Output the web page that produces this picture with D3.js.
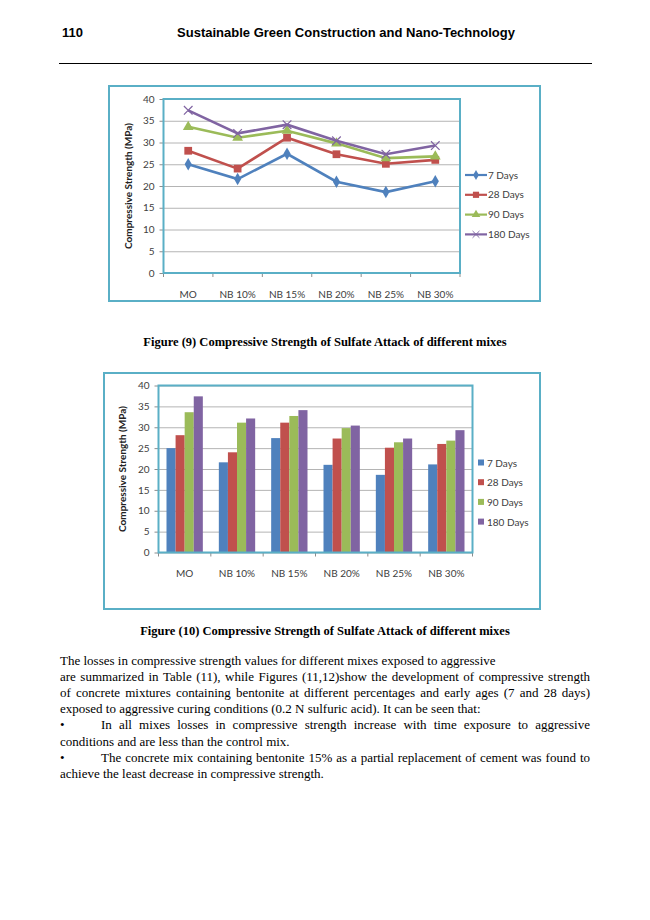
<!DOCTYPE html>
<html>
<head>
<meta charset="utf-8">
<script src="https://cdn.jsdelivr.net/npm/d3@7"></script>
<style>
  body { margin: 0; background: #fff; }
  svg { display: block; }
</style>
</head>
<body>
<div id="page"></div>
<script>
// chart data
var categories = ["MO", "NB 10%", "NB 15%", "NB 20%", "NB 25%", "NB 30%"];
var seriesNames = ["7 Days", "28 Days", "90 Days", "180 Days"];
var days7   = [25.0, 21.6, 27.4, 21.0, 18.6, 21.1];
var days28  = [28.1, 24.0, 31.1, 27.3, 25.1, 26.0];
var days90  = [33.6, 31.1, 32.7, 29.8, 26.4, 26.8];
var days180 = [37.4, 32.1, 34.1, 30.4, 27.3, 29.3];
var yTicks  = [0, 5, 10, 15, 20, 25, 30, 35, 40];

var colors = ["#4F81BD", "#C0504D", "#9BBB59", "#8064A2"];
var allSeries = [days7, days28, days90, days180];
var series = seriesNames.map(function(n, i) {
    return { name: n, color: colors[i], values: allSeries[i] };
});

var teal = "#5AAFC6";
var font = "Lato, 'Open Sans', sans-serif";

var svg = d3.select("#page").append("svg")
    .attr("width", 650)
    .attr("height", 920);

svg.append("rect").attr("width", 650).attr("height", 920).attr("fill", "#fff");

// page header
svg.append("text")
    .attr("x", 62).attr("y", 37)
    .style("font", "bold 13px 'Liberation Sans', Arial, sans-serif")
    .text("110");
svg.append("text")
    .attr("x", 346).attr("y", 37)
    .attr("text-anchor", "middle")
    .style("font", "bold 13px 'Liberation Sans', Arial, sans-serif")
    .text("Sustainable Green Construction and Nano-Technology");
svg.append("line")
    .attr("x1", 59).attr("x2", 592)
    .attr("y1", 63.5).attr("y2", 63.5)
    .attr("stroke", "#000").attr("stroke-width", 1);

function drawChart(opt) {
    var g = svg.append("g");

    g.append("rect")
        .attr("x", opt.box[0]).attr("y", opt.box[1])
        .attr("width", opt.box[2] - opt.box[0])
        .attr("height", opt.box[3] - opt.box[1])
        .attr("fill", "#fff")
        .attr("stroke", teal).attr("stroke-width", 2);

    var x = d3.scaleBand()
        .domain(categories)
        .range([opt.plot[0], opt.plot[2]]);
    var y = d3.scaleLinear()
        .domain([0, 40])
        .range([opt.plot[3], opt.plot[1]]);
    var bw = x.bandwidth();

    // gridlines + y ticks
    g.append("g")
        .attr("transform", "translate(" + opt.plot[0] + ",0)")
        .call(d3.axisLeft(y).tickValues(yTicks)
            .tickSize(-(opt.plot[2] - opt.plot[0]))
            .tickFormat(""))
        .call(function(s) {
            s.select(".domain").remove();
            s.selectAll("line").attr("stroke", "#b4b4b4").attr("stroke-width", 1);
        });
    g.append("g")
        .attr("transform", "translate(" + opt.plot[0] + ",0)")
        .call(d3.axisLeft(y).tickValues(yTicks).tickSize(4).tickPadding(5))
        .call(function(s) {
            s.select(".domain").remove();
            s.selectAll("line").attr("stroke", "#8c8c8c");
            s.selectAll("text")
                .style("font", "10px " + font)
                .attr("fill", "#404040");
        });

    // x ticks at category boundaries
    var bounds = categories.map(function(c) { return x(c); }).concat([opt.plot[2]]);
    g.selectAll(".xtick")
        .data(bounds)
        .enter().append("line")
        .attr("x1", function(d) { return d; })
        .attr("x2", function(d) { return d; })
        .attr("y1", opt.plot[3])
        .attr("y2", opt.plot[3] + 4)
        .attr("stroke", "#8c8c8c");

    g.append("g")
        .attr("transform", "translate(0," + opt.plot[3] + ")")
        .call(d3.axisBottom(x).tickSize(0).tickPadding(opt.xPad))
        .call(function(s) {
            s.select(".domain").remove();
            s.selectAll("text")
                .style("font", "10px " + font)
                .attr("fill", "#404040");
        });

    if (opt.type == "bar") {
        var x1 = d3.scaleBand()
            .domain(seriesNames)
            .range([8, bw - 8]);
        categories.forEach(function(c, ci) {
            g.selectAll(".bar" + ci)
                .data(series)
                .enter().append("rect")
                .attr("x", function(d) { return x(c) + x1(d.name); })
                .attr("y", function(d) { return y(d.values[ci]); })
                .attr("width", x1.bandwidth())
                .attr("height", function(d) { return y(0) - y(d.values[ci]); })
                .attr("fill", function(d) { return d.color; });
        });
    } else {
        var line = d3.line()
            .x(function(d, i) { return x(categories[i]) + bw / 2; })
            .y(function(d) { return y(d); });
        series.forEach(function(s, si) {
            g.append("path")
                .datum(s.values)
                .attr("d", line)
                .attr("fill", "none")
                .attr("stroke", s.color)
                .attr("stroke-width", 2.6);
            g.selectAll(".mk" + si)
                .data(s.values)
                .enter().append("path")
                .attr("transform", function(d, i) {
                    return "translate(" + (x(categories[i]) + bw / 2) + "," + y(d) + ")";
                })
                .call(marker, si, s.color);
        });
    }

    // plot area border
    g.append("rect")
        .attr("x", opt.plot[0]).attr("y", opt.plot[1])
        .attr("width", opt.plot[2] - opt.plot[0])
        .attr("height", opt.plot[3] - opt.plot[1])
        .attr("fill", "none")
        .attr("stroke", teal).attr("stroke-width", 2);

    // axis title
    var cy = (opt.plot[1] + opt.plot[3]) / 2;
    g.append("text")
        .attr("transform", "translate(" + opt.titleX + "," + cy + ") rotate(-90)")
        .attr("text-anchor", "middle")
        .style("font", "bold 10px " + font)
        .attr("fill", "#222")
        .text("Compressive Strength (MPa)");

    // legend
    var lg = g.selectAll(".lg")
        .data(series)
        .enter().append("g")
        .attr("transform", function(d, i) {
            return "translate(" + opt.legend[0] + "," + (opt.legend[1] + i * opt.legend[2]) + ")";
        });
    if (opt.type == "bar") {
        lg.append("rect")
            .attr("x", 0).attr("y", -3.5)
            .attr("width", 6).attr("height", 6)
            .attr("fill", function(d) { return d.color; });
        lg.append("text")
            .attr("x", 9).attr("dy", "0.35em")
            .style("font", "10px " + font)
            .attr("fill", "#404040")
            .text(function(d) { return d.name; });
    } else {
        lg.append("line")
            .attr("x1", 0).attr("x2", 22)
            .attr("stroke", function(d) { return d.color; })
            .attr("stroke-width", 2.2);
        lg.each(function(d, i) {
            d3.select(this).append("path")
                .attr("transform", "translate(11,0) scale(0.8)")
                .call(marker, i, d.color);
        });
        lg.append("text")
            .attr("x", 23).attr("dy", "0.35em")
            .style("font", "10px " + font)
            .attr("fill", "#404040")
            .text(function(d) { return d.name; });
    }
}

function marker(sel, si, color) {
    var types = [d3.symbolDiamond, d3.symbolSquare, d3.symbolTriangle, d3.symbolTimes];
    var sizes = [45, 60, 50, 50];
    sel.attr("d", d3.symbol().type(types[si]).size(sizes[si]));
    if (si == 3) {
        sel.attr("fill", "none").attr("stroke", color).attr("stroke-width", 1.2);
    } else {
        sel.attr("fill", color).attr("stroke", "none");
    }
}

drawChart({
    type: "line",
    box: [109, 86, 540, 301],
    plot: [163.5, 99, 460, 273],
    xPad: 18,
    titleX: 132,
    legend: [465, 175, 19.8]
});

drawChart({
    type: "bar",
    box: [104, 373, 540, 609],
    plot: [158.5, 385.5, 472.5, 552.5],
    xPad: 17,
    titleX: 126,
    legend: [478, 463, 19.7]
});

// captions
var capFont = "bold 12.5px 'Liberation Serif', 'Times New Roman', serif";
svg.append("text")
    .attr("x", 325).attr("y", 346)
    .attr("text-anchor", "middle")
    .style("font", capFont)
    .text("Figure (9) Compressive Strength of Sulfate Attack of different mixes");
svg.append("text")
    .attr("x", 325).attr("y", 635)
    .attr("text-anchor", "middle")
    .style("font", capFont)
    .text("Figure (10) Compressive Strength of Sulfate Attack of different mixes");

// body text
var bodyLines = [
    { x: 60, t: "The losses in compressive strength values for different mixes exposed to aggressive", j: false },
    { x: 60, t: "are summarized in Table (11), while Figures (11,12)show the development of compressive strength", j: true },
    { x: 60, t: "of concrete mixtures containing bentonite at different percentages and early ages (7 and 28 days)", j: true },
    { x: 60, t: "exposed to aggressive curing conditions (0.2 N sulfuric acid). It can be seen that:", j: false },
    { x: 101, t: "In all mixes losses in compressive strength increase with time exposure to aggressive", j: true, bullet: true },
    { x: 60, t: "conditions and are less than the control mix.", j: false },
    { x: 101, t: "The concrete mix containing bentonite 15% as a partial replacement of cement was found to", j: true, bullet: true },
    { x: 60, t: "achieve the least decrease in compressive strength.", j: false }
];
var bodyFont = "13px 'Liberation Serif', 'Times New Roman', serif";
var right = 590;

bodyLines.forEach(function(l, i) {
    var yy = 665 + i * 16.1;
    if (l.bullet) {
        svg.append("text").attr("x", 60).attr("y", yy)
            .style("font", bodyFont).text("\u2022");
    }
    if (!l.j) {
        svg.append("text").attr("x", l.x).attr("y", yy)
            .style("font", bodyFont).text(l.t);
        return;
    }
    var words = l.t.split(" ");
    var t = svg.append("text").attr("y", yy).style("font", bodyFont);
    var widths = words.map(function(w) {
        var tmp = svg.append("text").style("font", bodyFont).text(w);
        var wd = tmp.node().getComputedTextLength();
        tmp.remove();
        return wd;
    });
    var total = d3.sum(widths);
    var gap = (right - l.x - total) / (words.length - 1);
    var cx = l.x;
    words.forEach(function(w, wi) {
        t.append("tspan").attr("x", cx).text(w);
        cx += widths[wi] + gap;
    });
});
</script>
</body>
</html>
